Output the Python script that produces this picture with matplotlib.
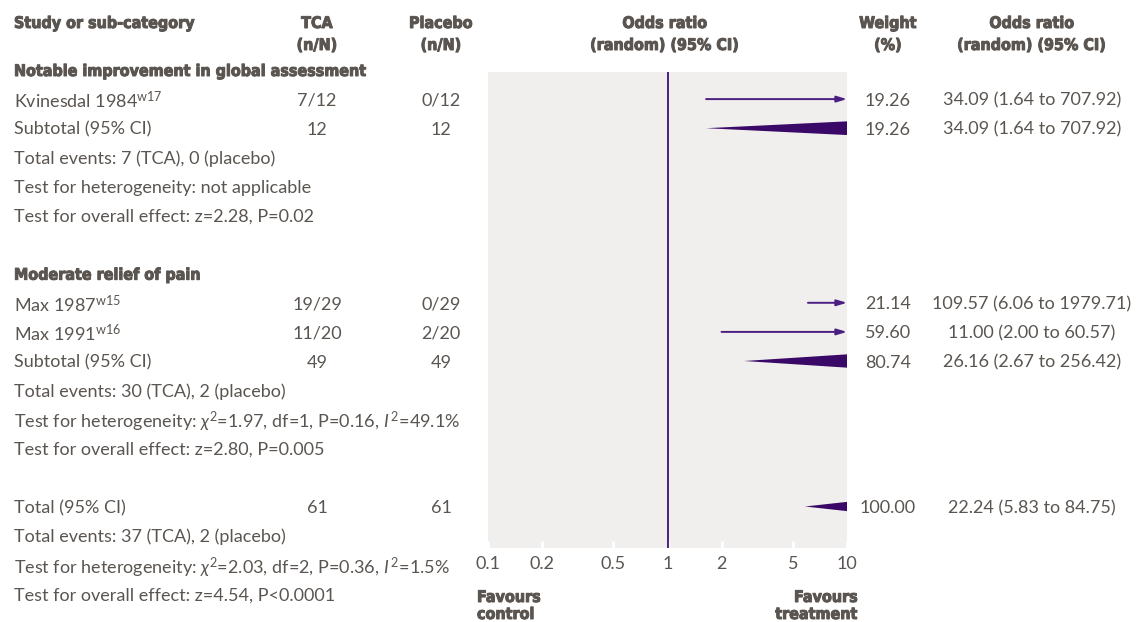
import matplotlib
matplotlib.use("Agg")
import matplotlib.pyplot as plt
import matplotlib.patheffects as pe
from matplotlib.patches import Polygon
from matplotlib.ticker import NullLocator

# forest plot: TCA vs placebo, odds ratios (random effects)
studies = ["Kvinesdal 1984", "Max 1987", "Max 1991"]
refs = ["w17", "w15", "w16"]
tca = ["7/12", "19/29", "11/20"]
placebo = ["0/12", "0/29", "2/20"]
or_est = [34.09, 109.57, 11.00]
or_lo = [1.64, 6.06, 2.00]
or_hi = [707.92, 1979.71, 60.57]
weights = ["19.26", "21.14", "59.60"]

sub_n_tca = ["12", "49"]
sub_n_pla = ["12", "49"]
sub_est = [34.09, 26.16]
sub_lo = [1.64, 2.67]
sub_hi = [707.92, 256.42]
sub_w = ["19.26", "80.74"]

tot_est, tot_lo, tot_hi = 22.24, 5.83, 84.75
tot_w = "100.00"
tot_n = ["61", "61"]

ticks = [0.1, 0.2, 0.5, 1, 2, 5, 10]
tick_labels = ["0.1", "0.2", "0.5", "1", "2", "5", "10"]

TXT = "#5a5550"
LINE = "#4b1f82"
DIAM = "#3a0866"
PANEL = "#f0efee"
BODY = "Lato"
BFS = 13
HEAD = dict(family="DejaVu Sans", fontstretch="condensed", weight="heavy",
            path_effects=[pe.withStroke(linewidth=0.7, foreground=TXT)])

plt.rcParams.update({
    "mathtext.fontset": "custom",
    "mathtext.rm": BODY,
    "mathtext.it": BODY + ":italic",
})

W, H = 1137, 622
fig = plt.figure(figsize=(W / 100, H / 100), dpi=100)

# layout in pixels
y0, rh = 70, 29.1
def row(k):
    return y0 + rh * k

px_l, px_r, px_t, px_b = 488, 847, 72, 548
ax = fig.add_axes([px_l / W, 1 - px_b / H, (px_r - px_l) / W, (px_b - px_t) / H])
ax.set_facecolor(PANEL)
ax.set_xscale("log")
ax.set_xlim(0.1, 10)
ax.set_ylim(px_b, px_t)
for s in ax.spines.values():
    s.set_visible(False)
ax.set_yticks([])
ax.set_xticks(ticks)
ax.set_xticklabels(tick_labels)
ax.xaxis.set_minor_locator(NullLocator())
ax.tick_params(axis="x", direction="in", color="white", length=5, width=2,
               pad=6, labelsize=BFS, labelcolor=TXT)
for lab in ax.get_xticklabels():
    lab.set_family(BODY)
ax.axvline(1, color=LINE, lw=1.4, zorder=3)

bg = fig.add_axes([0, 0, 1, 1])
bg.set_xlim(0, W)
bg.set_ylim(H, 0)
bg.axis("off")
bg.patch.set_alpha(0)

def body(x, y, s, ha="left"):
    bg.text(x, y, s, ha=ha, va="center_baseline", fontsize=BFS, color=TXT, family=BODY)

def head(x, y, s, ha="left"):
    bg.text(x, y, s, ha=ha, va="center_baseline", fontsize=11.5, color=TXT, **HEAD)

def arrow_row(y, lo, hi):
    ax.annotate("", xy=(min(hi, 10), y), xytext=(lo, y),
                arrowprops=dict(arrowstyle="-|>,head_length=0.6,head_width=0.18",
                                color=LINE, lw=1.4, shrinkA=0, shrinkB=0))

def diamond(y, est, lo, hi, h=11.5):
    p = Polygon([(lo, y), (est, y - h), (hi, y), (est, y + h)], closed=True,
                facecolor=DIAM, edgecolor="none", zorder=4)
    ax.add_patch(p)
    p.set_clip_path(ax.patch)

# column positions
x_name, x_tca, x_pla, x_plot, x_w, x_or = 14, 317, 441, 665, 888, 1032

head(x_name, 22, "Study or sub-category")
head(x_tca, 22, "TCA", "center"); head(x_tca, 44, "(n/N)", "center")
head(x_pla, 22, "Placebo", "center"); head(x_pla, 44, "(n/N)", "center")
head(x_plot, 22, "Odds ratio", "center"); head(x_plot, 44, "(random) (95% CI)", "center")
head(x_w, 22, "Weight", "center"); head(x_w, 44, "(%)", "center")
head(x_or, 22, "Odds ratio", "center"); head(x_or, 44, "(random) (95% CI)", "center")

def or_text(e, l, h):
    return f"{e:.2f} ({l:.2f} to {h:.2f})"

# group 1
head(x_name, row(0), "Notable improvement in global assessment")
study_rows = [1, 8, 9]
for i, k in enumerate(study_rows):
    y = row(k)
    body(x_name, y, studies[i] + r"$^{\mathrm{" + refs[i] + "}}$")
    body(x_tca, y, tca[i], "center")
    body(x_pla, y, placebo[i], "center")
    body(x_w, y, weights[i], "center")
    body(x_or, y, or_text(or_est[i], or_lo[i], or_hi[i]), "center")
    arrow_row(y, or_lo[i], or_hi[i])

sub_rows = [2, 10]
for j, k in enumerate(sub_rows):
    y = row(k)
    body(x_name, y, "Subtotal (95% CI)")
    body(x_tca, y, sub_n_tca[j], "center")
    body(x_pla, y, sub_n_pla[j], "center")
    body(x_w, y, sub_w[j], "center")
    body(x_or, y, or_text(sub_est[j], sub_lo[j], sub_hi[j]), "center")
    diamond(y, sub_est[j], sub_lo[j], sub_hi[j])

body(x_name, row(3), "Total events: 7 (TCA), 0 (placebo)")
body(x_name, row(4), "Test for heterogeneity: not applicable")
body(x_name, row(5), "Test for overall effect: z=2.28, P=0.02")

head(x_name, row(7), "Moderate relief of pain")
body(x_name, row(11), "Total events: 30 (TCA), 2 (placebo)")
body(x_name, row(12), r"Test for heterogeneity: $\chi^2$=1.97, df=1, P=0.16, $I^{\,2}$=49.1%")
body(x_name, row(13), "Test for overall effect: z=2.80, P=0.005")

y = row(15)
body(x_name, y, "Total (95% CI)")
body(x_tca, y, tot_n[0], "center")
body(x_pla, y, tot_n[1], "center")
body(x_w, y, tot_w, "center")
body(x_or, y, or_text(tot_est, tot_lo, tot_hi), "center")
diamond(y, tot_est, tot_lo, tot_hi)
body(x_name, row(16), "Total events: 37 (TCA), 2 (placebo)")
body(x_name, row(17), r"Test for heterogeneity: $\chi^2$=2.03, df=2, P=0.36, $I^{\,2}$=1.5%")
body(x_name, row(18), "Test for overall effect: z=4.54, P<0.0001")

head(477, 596, "Favours")
head(477, 613, "control")
head(858, 596, "Favours", "right")
head(858, 613, "treatment", "right")

fig.savefig("out.png", dpi=100)
